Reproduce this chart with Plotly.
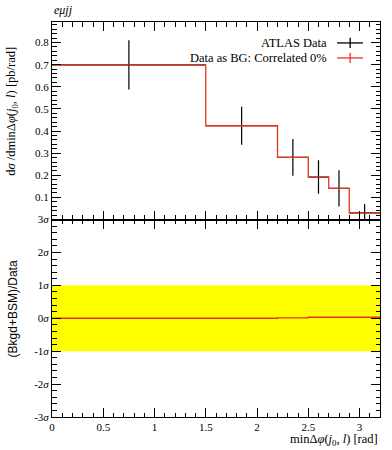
import plotly.graph_objects as go

# ---- data ----
bin_edges = [0.0, 1.5, 2.2, 2.5, 2.7, 2.9, 3.2]
data_values = [0.699, 0.424, 0.281, 0.192, 0.141, 0.030]
data_errors = [0.111, 0.086, 0.083, 0.076, 0.082, 0.040]
bg_values = [0.699, 0.424, 0.281, 0.192, 0.141, 0.030]
ratio_values = [0.0, 0.0, 0.01, 0.03, 0.03, 0.03]
band_lo = [-1, -1, -1, -1, -1, -1]
band_hi = [1, 1, 1, 1, 1, 1]
top_ticks = [0.1, 0.2, 0.3, 0.4, 0.5, 0.6, 0.7, 0.8]
top_ticklabels = ["0.1", "0.2", "0.3", "0.4", "0.5", "0.6", "0.7", "0.8"]
bot_ticks = [-3, -2, -1, 0, 1, 2, 3]
bot_ticklabels = ["-3<i>σ</i>", "-2<i>σ</i>", "-1<i>σ</i>", "0<i>σ</i>",
                  "1<i>σ</i>", "2<i>σ</i>", "3<i>σ</i>"]
x_ticks = [0, 0.5, 1, 1.5, 2, 2.5, 3]
x_ticklabels = ["0", "0.5", "1", "1.5", "2", "2.5", "3"]

centers = [(bin_edges[i] + bin_edges[i + 1]) / 2 for i in range(len(data_values))]
halfw = [(bin_edges[i + 1] - bin_edges[i]) / 2 for i in range(len(data_values))]

FONT = "Liberation Serif"
RED = "#e8321e"

fig = go.Figure()

# data points with errors
fig.add_trace(go.Scatter(
    x=centers, y=data_values, mode="markers",
    marker=dict(size=1, color="black"),
    error_x=dict(type="data", array=halfw, color="black", thickness=1.2, width=0),
    error_y=dict(type="data", array=data_errors, color="black", thickness=1.2, width=0),
    xaxis="x", yaxis="y", showlegend=False))

# background step line
fig.add_trace(go.Scatter(
    x=bin_edges, y=bg_values + [bg_values[-1]], mode="lines",
    line=dict(color=RED, width=1.3, shape="hv"),
    xaxis="x", yaxis="y", showlegend=False))

# ratio band
fig.add_trace(go.Scatter(
    x=bin_edges, y=band_lo + [band_lo[-1]], mode="lines",
    line=dict(width=0, shape="hv"), xaxis="x2", yaxis="y2", showlegend=False))
fig.add_trace(go.Scatter(
    x=bin_edges, y=band_hi + [band_hi[-1]], mode="lines",
    line=dict(width=0, shape="hv"), fill="tonexty", fillcolor="#ffff00",
    xaxis="x2", yaxis="y2", showlegend=False))

# ratio line
fig.add_trace(go.Scatter(
    x=bin_edges, y=ratio_values + [ratio_values[-1]], mode="lines",
    line=dict(color=RED, width=1.3, shape="hv"),
    xaxis="x2", yaxis="y2", showlegend=False))

axis_common = dict(showgrid=False, zeroline=False, showline=True, linecolor="black",
                   linewidth=1, ticks="inside", tickcolor="black", ticklen=9,
                   automargin=False,
                   tickfont=dict(family=FONT, size=11, color="black"))

fig.update_layout(
    width=392, height=450,
    margin=dict(l=52, r=12, t=22, b=33, autoexpand=False),
    paper_bgcolor="white", plot_bgcolor="white",
    showlegend=False,
    xaxis=dict(domain=[0, 1], range=[0, 3.2], anchor="y", mirror="allticks",
               showticklabels=False, tickvals=x_ticks,
               minor=dict(ticks="inside", dtick=0.1, ticklen=4.5, tickcolor="black"),
               **axis_common),
    yaxis=dict(domain=[0.5, 1], range=[0, 0.893], anchor="x", mirror="allticks",
               tickvals=top_ticks, ticktext=top_ticklabels,
               minor=dict(ticks="inside", dtick=0.02, ticklen=4.5, tickcolor="black"),
               **axis_common),
    xaxis2=dict(domain=[0, 1], range=[0, 3.2], anchor="y2", mirror="allticks",
                tickvals=x_ticks, ticktext=x_ticklabels,
                minor=dict(ticks="inside", dtick=0.1, ticklen=4.5, tickcolor="black"),
                **axis_common),
    yaxis2=dict(domain=[0, 0.5], range=[-3, 3], anchor="x2", mirror="allticks",
                tickvals=bot_ticks, ticktext=bot_ticklabels,
                minor=dict(ticks="inside", dtick=0.2, ticklen=4.5, tickcolor="black"),
                **axis_common),
)

# labels
fig.add_annotation(text="<i>eμjj</i>", xref="paper", yref="paper", x=0.0, y=1.0,
                   xanchor="left", yanchor="bottom", yshift=3, showarrow=False,
                   font=dict(family=FONT, size=12, color="black"))
fig.add_annotation(text="d<i>σ</i> /dminΔ<i>φ</i>(<i>j</i><sub>0</sub>, <i>l</i>) [pb/rad]",
                   xref="paper", yref="paper", x=-0.122, y=0.775, textangle=-90,
                   xanchor="center", yanchor="middle", showarrow=False,
                   font=dict(family=FONT, size=12.5, color="black"))
fig.add_annotation(text="(Bkgd+BSM)/Data",
                   xref="paper", yref="paper", x=-0.118, y=0.273, textangle=-90,
                   xanchor="center", yanchor="middle", showarrow=False,
                   font=dict(family="Liberation Sans", size=12, color="black"))
fig.add_annotation(text="minΔ<i>φ</i>(<i>j</i><sub>0</sub>, <i>l</i>) [rad]",
                   xref="paper", yref="paper", x=1.0, y=-0.058,
                   xanchor="right", yanchor="middle", showarrow=False,
                   font=dict(family=FONT, size=12.5, color="black"))

# legend (manual)
legend_rows = [("ATLAS Data", "black", 0.947), ("Data as BG: Correlated 0%", RED, 0.909)]
for label, col, yy in legend_rows:
    fig.add_annotation(text=label, xref="paper", yref="paper", x=0.845, y=yy,
                       xanchor="right", yanchor="middle", showarrow=False,
                       font=dict(family=FONT, size=12.5, color="black"))
    fig.add_shape(type="line", xref="paper", yref="paper", x0=0.869, x1=0.948,
                  y0=yy, y1=yy, line=dict(color=col, width=1.3))
    fig.add_shape(type="line", xref="paper", yref="paper", x0=0.909, x1=0.909,
                  y0=yy - 0.013, y1=yy + 0.013, line=dict(color=col, width=1.3))

fig.write_html("out.html", config={"displayModeBar": False},
               post_script="document.body.style.margin='0';document.body.style.padding='0';")
